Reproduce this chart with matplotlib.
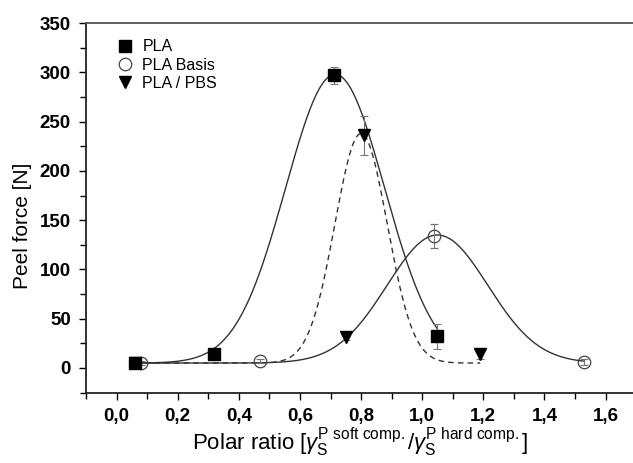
import numpy as np
import matplotlib
matplotlib.use('Agg')
import matplotlib.pyplot as plt
from matplotlib.ticker import MultipleLocator, FuncFormatter

plt.rcParams['font.family'] = ['Liberation Sans', 'DejaVu Sans']
plt.rcParams['mathtext.fontset'] = 'custom'
plt.rcParams['mathtext.rm'] = 'Liberation Sans'
plt.rcParams['mathtext.it'] = 'Liberation Sans:italic'

# measured points
pla_x = [0.06, 0.32, 0.71, 1.05]
pla_y = [5, 14, 297, 32]
pla_err = [5, 0, 9, 13]

basis_x = [0.08, 0.47, 1.04, 1.53]
basis_y = [5, 7, 134, 6]
basis_err = [2, 2, 12, 3]

pbs_x = [0.06, 0.75, 0.81, 1.19]
pbs_y = [5, 31, 236, 14]
pbs_err = [3, 3, 20, 5]

# gaussian fit parameters: baseline, amplitude, centre, width
pla_fit = [5, 293, 0.715, 0.324]
basis_fit = [5, 130, 1.05, 0.33]
pbs_fit = [5, 233, 0.80, 0.171]


def gauss(x, p):
    y0, a, xc, w = p
    return y0 + a * np.exp(-2 * ((x - xc) / w) ** 2)


fig = plt.figure(figsize=(6.33, 4.63), dpi=100)
ax = fig.add_axes([0.1359, 0.152, 0.869, 0.798])

line_c = '#333333'
err_c = '#777777'

# fitted curves
xs = np.linspace(min(pla_x), max(pla_x), 300)
ax.plot(xs, gauss(xs, pla_fit), color=line_c, lw=1.0)
xs = np.linspace(min(basis_x), max(basis_x), 300)
ax.plot(xs, gauss(xs, basis_fit), color=line_c, lw=1.0)
xs = np.linspace(min(pbs_x), max(pbs_x), 300)
ax.plot(xs, gauss(xs, pbs_fit), color=line_c, lw=1.0, ls=(0, (4, 3)))

# points with error bars
ax.errorbar(pbs_x, pbs_y, yerr=pbs_err, fmt='v', color='black', ms=9,
            ecolor=err_c, elinewidth=0.8, capsize=3, capthick=0.8, label='PLA / PBS', zorder=3)
ax.errorbar(basis_x, basis_y, yerr=basis_err, fmt='o', mfc='none', mec='#444444', ms=9,
            mew=0.9, ecolor=err_c, elinewidth=0.8, capsize=3, capthick=0.8, label='PLA Basis', zorder=3)
ax.errorbar(pla_x, pla_y, yerr=pla_err, fmt='s', color='black', ms=8,
            ecolor=err_c, elinewidth=0.8, capsize=3, capthick=0.8, label='PLA', zorder=4)

ax.set_xlim(-0.1, 1.7)
ax.set_ylim(-25, 350)

ax.xaxis.set_major_locator(MultipleLocator(0.2))
ax.xaxis.set_minor_locator(MultipleLocator(0.1))
ax.yaxis.set_major_locator(MultipleLocator(50))
ax.yaxis.set_minor_locator(MultipleLocator(25))
ax.xaxis.set_major_formatter(FuncFormatter(lambda v, p: f'{v:.1f}'.replace('.', ',')))
ax.yaxis.set_major_formatter(FuncFormatter(lambda v, p: f'{v:.0f}'))

ax.tick_params(which='both', direction='out', top=False, right=False, width=1.0)
ax.tick_params(which='major', length=5, labelsize=13.5, pad=6)
ax.tick_params(which='minor', length=4)
for lab in ax.get_xticklabels() + ax.get_yticklabels():
    lab.set_fontweight('bold')

for s in ax.spines.values():
    s.set_linewidth(1.3)
    s.set_color('#222222')
ax.spines['top'].set_color('#555555')

ax.set_ylabel('Peel force [N]', fontsize=15)
ax.yaxis.set_label_coords(-0.098, 0.451)
ax.set_xlabel(r'Polar ratio [$\gamma_{\mathrm{S}}^{\mathrm{P\ soft\ comp.}}/\gamma_{\mathrm{S}}^{\mathrm{P\ hard\ comp.}}$]',
              fontsize=16, va='baseline')
ax.xaxis.set_label_coords(0.498, -0.155)

h, l = ax.get_legend_handles_labels()
order = [2, 1, 0]
leg = ax.legend([h[i][0] for i in order], [l[i] for i in order], loc='upper left',
                bbox_to_anchor=(0.03, 0.995), frameon=False, fontsize=11.5,
                handlelength=1.0, handletextpad=0.6, labelspacing=0.2)

fig.savefig('out.png', dpi=100)
